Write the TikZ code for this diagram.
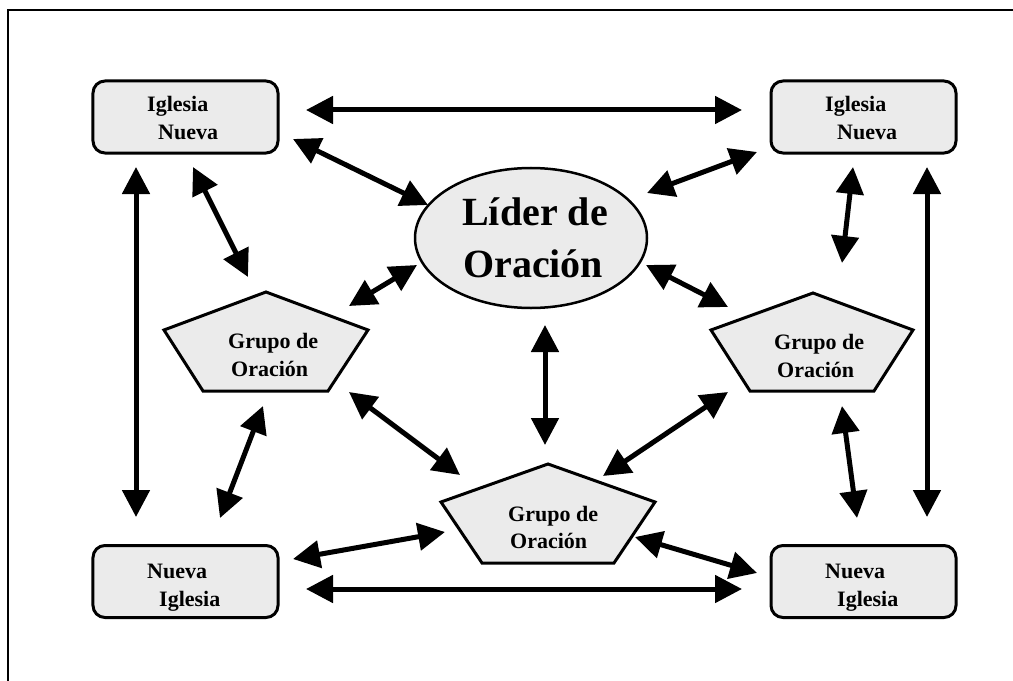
\documentclass[tikz,border=0pt]{standalone}
\usepackage{fontspec}
\setmainfont{Liberation Serif}
\usetikzlibrary{arrows.meta,shapes.geometric}
\definecolor{shapefill}{HTML}{EBEBEB}
\tikzset{
  boxnode/.style={draw, line width=3bp, fill=shapefill, rounded corners=12bp,
    minimum width=185bp, minimum height=72bp, inner sep=0pt},
  ellnode/.style={draw, line width=2.5bp, fill=shapefill, ellipse,
    minimum width=232bp, minimum height=140bp, inner sep=0pt},
  pent/.style={draw, line width=3bp, fill=shapefill, line join=miter},
  smalltxt/.style={anchor=base west, inner sep=0pt, font=\fontsize{22bp}{28bp}\selectfont\bfseries},
  bigtxt/.style={anchor=base west, inner sep=0pt, font=\fontsize{40bp}{52bp}\selectfont\bfseries},
  dblarrow/.style={line width=5bp, {Triangle[width=27bp,length=27bp]}-{Triangle[width=27bp,length=27bp]}},
}
\begin{document}
\begin{tikzpicture}[x=1bp,y=-1bp]
\useasboundingbox (0,0) rectangle (1013,681);
\clip (0,0) rectangle (1013,681);
\fill[white] (0,0) rectangle (1013,681);
% frame
\draw[line width=2.7bp] (8,700) -- (8,10) -- (1030,10);

% boxes
\node[boxnode] (tl) at (185.5,117) {};
\node[boxnode] (tr) at (863.5,117) {};
\node[boxnode] (bl) at (185.5,581.5) {};
\node[boxnode] (br) at (863.5,581.5) {};
\node[smalltxt] (tl1) at (147,112) {Iglesia};
\node[smalltxt] (tl2) at (158,140) {Nueva};
\node[smalltxt] (tr1) at (825,112) {Iglesia};
\node[smalltxt] (tr2) at (837,140) {Nueva};
\node[smalltxt] (bl1) at (147,578) {Nueva};
\node[smalltxt] (bl2) at (159,606) {Iglesia};
\node[smalltxt] (br1) at (825,578) {Nueva};
\node[smalltxt] (br2) at (837,606) {Iglesia};

% ellipse
\node[ellnode] (lider) at (531,238) {};
\node[bigtxt] (lider1) at (462,225) {Líder de};
\node[bigtxt] (lider2) at (463,277) {Oración};

% pentagons
\coordinate (plt) at (266,292); \coordinate (plr) at (368,330);
\coordinate (plbr) at (328,391); \coordinate (plbl) at (203,391);
\coordinate (pll) at (164,330);
\draw[pent] (plt) -- (plr) -- (plbr) -- (plbl) -- (pll) -- cycle;
\node[smalltxt] (pl1) at (228,348) {Grupo de};
\node[smalltxt] (pl2) at (231,376) {Oración};

\coordinate (prt) at (813,293); \coordinate (prr) at (913,330);
\coordinate (prbr) at (874,391); \coordinate (prbl) at (750,391);
\coordinate (prl) at (711,330);
\draw[pent] (prt) -- (prr) -- (prbr) -- (prbl) -- (prl) -- cycle;
\node[smalltxt] (pr1) at (774,349) {Grupo de};
\node[smalltxt] (pr2) at (777,377) {Oración};

\coordinate (pbt) at (548,464); \coordinate (pbr) at (655,502);
\coordinate (pbbr) at (614,563); \coordinate (pbbl) at (482,563);
\coordinate (pbl) at (441,502);
\draw[pent] (pbt) -- (pbr) -- (pbbr) -- (pbbl) -- (pbl) -- cycle;
\node[smalltxt] (pb1) at (508,521) {Grupo de};
\node[smalltxt] (pb2) at (510,548) {Oración};

% arrow end points
\coordinate (a1s) at (306,110);  \coordinate (a1e) at (742,110);
\coordinate (a2s) at (293,139);  \coordinate (a2e) at (428,205);
\coordinate (a3s) at (757,152);  \coordinate (a3e) at (647,193);
\coordinate (a4s) at (193,167);  \coordinate (a4e) at (248,277);
\coordinate (a5s) at (136,167);  \coordinate (a5e) at (136,517);
\coordinate (a6s) at (927,167);  \coordinate (a6e) at (927,517);
\coordinate (a7s) at (853,167);  \coordinate (a7e) at (842,263);
\coordinate (a8s) at (417,265);  \coordinate (a8e) at (349,306);
\coordinate (a9s) at (646,265);  \coordinate (a9e) at (728,307);
\coordinate (a10s) at (545,325); \coordinate (a10e) at (545,445);
\coordinate (a11s) at (349,392); \coordinate (a11e) at (460,475);
\coordinate (a12s) at (728,392); \coordinate (a12e) at (603,476);
\coordinate (a13s) at (263,406); \coordinate (a13e) at (220,518);
\coordinate (a14s) at (842,406); \coordinate (a14e) at (857,518);
\coordinate (a15s) at (293,559); \coordinate (a15e) at (445,532);
\coordinate (a16s) at (757,573); \coordinate (a16e) at (635,537);
\coordinate (a17s) at (306,589); \coordinate (a17e) at (742,589);

\foreach \i in {1,...,17} {
  \draw[dblarrow] (a\i s) -- (a\i e);
}
\end{tikzpicture}
\end{document}
